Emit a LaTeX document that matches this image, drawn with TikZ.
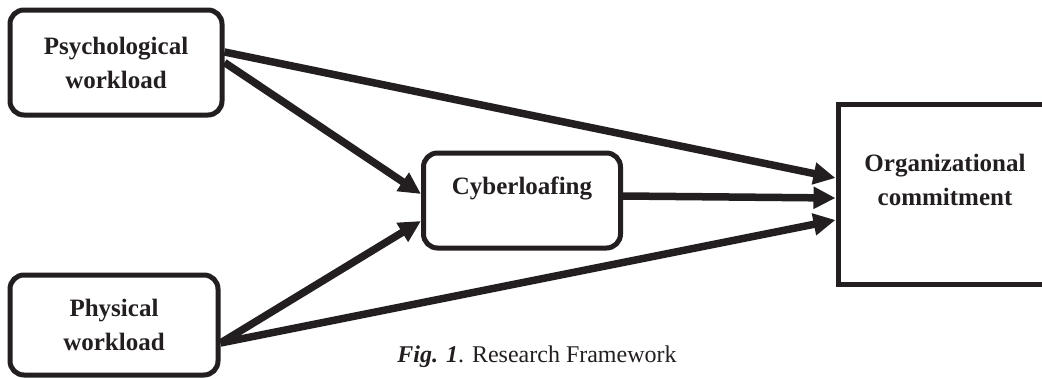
\documentclass[tikz,border=0pt]{standalone}
\usepackage{fontspec}
\setmainfont{Liberation Serif}
\usetikzlibrary{arrows.meta,calc}
\definecolor{ink}{RGB}{35,31,32}
\begin{document}
\begin{tikzpicture}[x=1pt,y=-1pt,
  rbox/.style={draw=ink, line width=5pt, rounded corners=14pt, inner sep=0pt,
    font=\bfseries\fontsize{25}{34}\selectfont, text=ink, align=center},
  sbox/.style={draw=ink, line width=5pt, inner sep=0pt},
  lbl/.style={font=\bfseries\fontsize{25}{34}\selectfont, text=ink, align=center, inner sep=0pt},
  arr/.style={draw=ink, line width=7.5pt, -{Triangle[length=22pt,width=21pt]}}]
\useasboundingbox (0,0) rectangle (1042,378);
\clip (0,0) rectangle (1042,378);
\fill[white] (0,0) rectangle (1042,378);
% boxes
\node[rbox, minimum width=212pt, minimum height=105pt] (psy) at (116,62.5) {Psychological\\workload};
\node[rbox, minimum width=208pt, minimum height=100pt] (phy) at (114,325) {Physical\\workload};
\node[rbox, minimum width=197pt, minimum height=95pt] (cyb) at (522,200.5) {};
\node[lbl] (cybt) at (522,188) {Cyberloafing};
\node[sbox, minimum width=222pt, minimum height=180pt] (org) at (949,194) {};
\node[lbl] (orgt) at (945,180) {Organizational\\commitment};
% connectors
\draw[arr] ([yshift=10.5pt]psy.east) -- ([yshift=16pt]org.west);
\draw[arr] (psy.east) -- ([yshift=6.5pt]cyb.west);
\draw[arr] ([yshift=4.5pt]cyb.east) -- ([yshift=-4pt]org.west);
\draw[arr] ([yshift=-18pt]phy.east) -- ([yshift=-20.5pt]cyb.west);
\draw[arr] ([yshift=-18pt]phy.east) -- ([yshift=-26pt]org.west);
% caption
\node[anchor=base, inner sep=0pt, text=ink, font=\fontsize{24}{28}\selectfont] (cap) at (537,362)
  {\textbf{\textit{Fig. 1}}. Research Framework};
\end{tikzpicture}
\end{document}
